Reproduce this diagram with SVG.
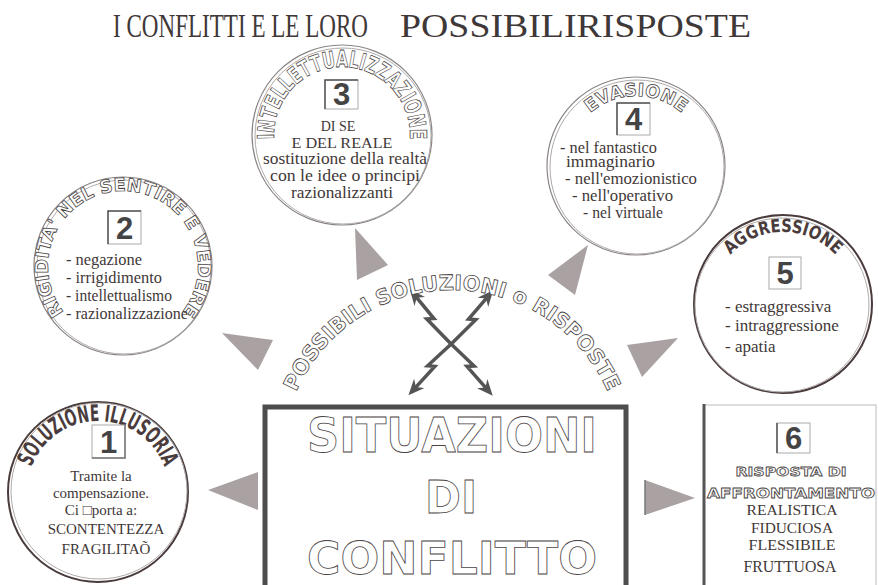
<svg xmlns="http://www.w3.org/2000/svg" width="878" height="585" viewBox="0 0 878 585">
<defs>
<style>
.serif{font-family:"Liberation Serif","Times New Roman",serif;fill:#3f3838}
.outl{font-family:"DejaVu Sans","Liberation Sans",sans-serif;font-weight:bold;fill:#fff;stroke:#4a4444;stroke-width:0.8}
.darkarc{font-family:"DejaVu Sans","Liberation Sans",sans-serif;font-weight:bold;fill:#4a3c3c}
.num{font-family:"Liberation Sans",Arial,sans-serif;font-weight:bold;font-size:31px;fill:#444;text-anchor:middle}
.nbox{fill:#fff;stroke:#aaa;stroke-width:1}
.ring{fill:#fff;stroke:#8a8585;stroke-width:1.2}
.ring2{fill:none;stroke:#b0aaaa;stroke-width:1}
.dring{fill:#fff;stroke:#4a3c3c;stroke-width:2}
.tri{fill:#a9a1a2}
.bolt{fill:none;stroke:#555;stroke-width:3.5;stroke-linejoin:miter}
.mid{text-anchor:middle}
</style>
<marker id="ah" viewBox="0 0 16 14" markerWidth="16" markerHeight="14" refX="6" refY="7" orient="auto-start-reverse" markerUnits="userSpaceOnUse"><path d="M0,0 L16,7 L0,14 L5,7 z" fill="#555"/></marker>
<path id="arc1" d="M98,563 A71,71 0 1 1 98,421 A71,71 0 1 1 98,563"/>
<path id="arc2" d="M123,341 A75,75 0 1 1 123,191 A75,75 0 1 1 123,341"/>
<path id="arc3" d="M342,203 A68,68 0 1 1 342,67 A68,68 0 1 1 342,203"/>
<path id="arc4" d="M636,236 A70,70 0 1 1 636,96 A70,70 0 1 1 636,236"/>
<path id="arc5" d="M783,376 A72,72 0 1 1 783,232 A72,72 0 1 1 783,376"/>
<path id="arcBig" d="M452,630 A170,170 0 1 1 452,290 A170,170 0 1 1 452,630"/>
</defs>
<rect width="878" height="585" fill="#fff"/>

<g id="title">
<text class="serif" x="113" y="37" font-size="34" textLength="255" lengthAdjust="spacingAndGlyphs">I CONFLITTI E LE LORO</text>
<text class="serif" x="400" y="37" font-size="34" textLength="351" lengthAdjust="spacingAndGlyphs">POSSIBILIRISPOSTE</text>
</g>

<g id="connectors">
<polygon class="tri" points="222,333 273,340 258,370"/>
<polygon class="tri" points="355,228 388,265 357,280"/>
<polygon class="tri" points="588,245 548,275 575,295"/>
<polygon class="tri" points="678,338 627,345 642,377"/>
<polygon class="tri" points="208,490 258,472 258,510"/>
<polygon class="tri" points="695,498 645,480 645,515"/>
<line x1="645" y1="480" x2="645" y2="515" stroke="#777" stroke-width="1.5"/>
<path class="bolt" transform="translate(410,289) rotate(52.5)" d="M10,0 L38,-1 L34,5 L68,1 L100,-4 L96,2 L125,0" marker-start="url(#ah)" marker-end="url(#ah)"/>
<path class="bolt" transform="translate(493,290) rotate(128.5)" d="M10,0 L38,1 L34,-5 L68,-1 L100,4 L96,-2 L125,0" marker-start="url(#ah)" marker-end="url(#ah)"/>
<text class="outl" font-size="21" textLength="394" lengthAdjust="spacingAndGlyphs"><textPath href="#arcBig" startOffset="50%" text-anchor="middle">POSSIBILI SOLUZIONI o RISPOSTE</textPath></text>
</g>

<g id="node1">
<circle class="dring" cx="98" cy="492" r="90"/>
<circle class="ring2" cx="99" cy="491" r="88"/>
<text class="darkarc" font-size="23" textLength="172" lengthAdjust="spacingAndGlyphs"><textPath href="#arc1" startOffset="50%" text-anchor="middle">SOLUZIONE ILLUSORIA</textPath></text>
<rect class="nbox" x="92" y="425" width="33" height="33"/>
<path d="M125,425 V458 H92" fill="none" stroke="#777" stroke-width="1.5"/>
<text class="num" x="108.5" y="453">1</text>
<text class="serif mid" font-size="15" x="101" y="481">Tramite la</text>
<text class="serif mid" font-size="15" x="101" y="498">compensazione.</text>
<text class="serif mid" font-size="15" x="101" y="515">Ci □porta a:</text>
<text class="serif mid" font-size="15" x="106" y="534">SCONTENTEZZA</text>
<text class="serif mid" font-size="15" x="106" y="554">FRAGILITAÕ</text>
</g>

<g id="node2">
<circle class="ring" cx="123" cy="266" r="89"/>
<circle class="ring2" cx="124" cy="267" r="87"/>
<text class="outl" font-size="18" textLength="335" lengthAdjust="spacingAndGlyphs"><textPath href="#arc2" startOffset="50%" text-anchor="middle">RIGIDITA' NEL SENTIRE E VEDERE</textPath></text>
<rect class="nbox" x="108" y="211" width="33" height="33"/>
<path d="M108,244 V211 H141" fill="none" stroke="#555" stroke-width="1.5"/>
<text class="num" x="124.5" y="239">2</text>
<text class="serif" font-size="16" x="66" y="265" fill="#555" textLength="76" lengthAdjust="spacingAndGlyphs">- negazione</text>
<text class="serif" font-size="16" x="66" y="283" fill="#555" textLength="96" lengthAdjust="spacingAndGlyphs">- irrigidimento</text>
<text class="serif" font-size="16" x="66" y="301" fill="#555" textLength="106" lengthAdjust="spacingAndGlyphs">- intellettualismo</text>
<text class="serif" font-size="16" x="66" y="319" fill="#555" textLength="122" lengthAdjust="spacingAndGlyphs">- razionalizzazione</text>
</g>

<g id="node3">
<circle class="ring" cx="342" cy="135" r="90"/>
<circle class="ring2" cx="343" cy="136" r="88"/>
<text class="outl" font-size="23" textLength="222" lengthAdjust="spacingAndGlyphs"><textPath href="#arc3" startOffset="50%" text-anchor="middle">INTELLETTUALIZZAZIONE</textPath></text>
<rect class="nbox" x="325" y="80" width="33" height="29"/>
<path d="M325,109 V80 H358" fill="none" stroke="#555" stroke-width="1.5"/>
<text class="num" x="341.5" y="105">3</text>
<text class="serif mid" font-size="14" x="338" y="131" fill="#555">DI SE</text>
<text class="serif mid" font-size="15" x="342" y="148" fill="#555" textLength="101" lengthAdjust="spacingAndGlyphs">E DEL REALE</text>
<text class="serif mid" font-size="16" x="345" y="164" textLength="164" lengthAdjust="spacingAndGlyphs">sostituzione della realtà</text>
<text class="serif mid" font-size="16" x="345" y="181" textLength="150" lengthAdjust="spacingAndGlyphs">con le idee o principi</text>
<text class="serif mid" font-size="16" x="342" y="198" textLength="102" lengthAdjust="spacingAndGlyphs">razionalizzanti</text>
</g>

<g id="node4">
<circle class="ring" cx="636" cy="166" r="89"/>
<circle class="ring2" cx="637" cy="167" r="87"/>
<text class="outl" font-size="18" textLength="100" lengthAdjust="spacingAndGlyphs"><textPath href="#arc4" startOffset="50%" text-anchor="middle">EVASIONE</textPath></text>
<rect class="nbox" x="617" y="103" width="33" height="32"/>
<path d="M617,135 V103 H650" fill="none" stroke="#555" stroke-width="1.5"/>
<text class="num" x="633.5" y="130">4</text>
<text class="serif" font-size="16" x="560" y="153" fill="#555" textLength="97" lengthAdjust="spacingAndGlyphs">- nel fantastico</text>
<text class="serif" font-size="16" x="566" y="167" fill="#555" textLength="89" lengthAdjust="spacingAndGlyphs">immaginario</text>
<text class="serif" font-size="16" x="565" y="184" fill="#555" textLength="132" lengthAdjust="spacingAndGlyphs">- nell'emozionistico</text>
<text class="serif" font-size="16" x="572" y="201" fill="#555" textLength="101" lengthAdjust="spacingAndGlyphs">- nell'operativo</text>
<text class="serif" font-size="16" x="583" y="218" fill="#555" textLength="80" lengthAdjust="spacingAndGlyphs">- nel virtuale</text>
</g>

<g id="node5">
<circle class="dring" cx="783" cy="304" r="89"/>
<circle class="ring2" cx="782" cy="305" r="87"/>
<text class="darkarc" font-size="18" textLength="118" lengthAdjust="spacingAndGlyphs"><textPath href="#arc5" startOffset="50%" text-anchor="middle">AGGRESSIONE</textPath></text>
<rect class="nbox" x="769" y="257" width="32" height="32"/>
<text class="num" x="785" y="284">5</text>
<text class="serif" font-size="17" x="725" y="312" fill="#333">- estraggressiva</text>
<text class="serif" font-size="17" x="725" y="331" fill="#333">- intraggressione</text>
<text class="serif" font-size="17" x="725" y="352" fill="#333">- apatia</text>
</g>

<g id="node6">
<rect x="704" y="405" width="172" height="190" fill="#fff" stroke="#bbb" stroke-width="1"/>
<line x1="704" y1="404" x2="704" y2="585" stroke="#555" stroke-width="3"/>
<rect class="nbox" x="777" y="423" width="33" height="30"/>
<line x1="777" y1="423" x2="777" y2="453" stroke="#555" stroke-width="1.5"/>
<text class="num" x="793.5" y="449">6</text>
<text class="outl" font-size="13" x="791" y="476" text-anchor="middle" textLength="111" lengthAdjust="spacingAndGlyphs">RISPOSTA DI</text>
<text class="outl" font-size="14" x="707" y="498" textLength="168" lengthAdjust="spacingAndGlyphs">AFFRONTAMENTO</text>
<text class="serif mid" font-size="14" x="792" y="515" fill="#666" textLength="91" lengthAdjust="spacingAndGlyphs">REALISTICA</text>
<text class="serif mid" font-size="14" x="792" y="533" fill="#666" textLength="82" lengthAdjust="spacingAndGlyphs">FIDUCIOSA</text>
<text class="serif mid" font-size="14" x="792" y="550" fill="#666" textLength="87" lengthAdjust="spacingAndGlyphs">FLESSIBILE</text>
<text class="serif mid" font-size="16" x="790" y="572" fill="#333" textLength="93" lengthAdjust="spacingAndGlyphs">FRUTTUOSA</text>
</g>

<g id="node0">
<rect x="265" y="407" width="361" height="190" fill="#fff" stroke="#4d4d4d" stroke-width="5"/>
<text class="outl" font-size="48" x="452" y="452" text-anchor="middle" stroke-width="1" textLength="290" lengthAdjust="spacingAndGlyphs">SITUAZIONI</text>
<text class="outl" font-size="44" x="451" y="513" text-anchor="middle" stroke-width="1" textLength="52" lengthAdjust="spacingAndGlyphs">DI</text>
<text class="outl" font-size="45" x="452" y="574" text-anchor="middle" stroke-width="1" textLength="290" lengthAdjust="spacingAndGlyphs">CONFLITTO</text>
</g>
</svg>
